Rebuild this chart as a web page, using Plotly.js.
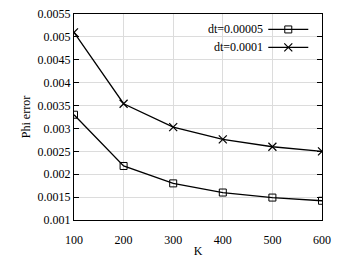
<!DOCTYPE html>
<html><head><meta charset="utf-8">
<script src="https://cdn.plot.ly/plotly-3.0.1.min.js"></script>
<style>html,body{margin:0;padding:0;background:#fff}</style>
</head><body><div id="chart" style="width:345px;height:259px"></div>
<script>
const K = [100, 200, 300, 400, 500, 600];
const errDt00005 = [0.0033, 0.00218, 0.0018, 0.0016, 0.00149, 0.00142];
const errDt0001 = [0.0051, 0.00354, 0.00303, 0.00276, 0.0026, 0.0025];
const seriesNames = ['dt=0.00005', 'dt=0.0001'];
const yTickVals = [0.001, 0.0015, 0.002, 0.0025, 0.003, 0.0035, 0.004, 0.0045, 0.005, 0.0055];
const yTickText = ['0.001', '0.0015', '0.002', '0.0025', '0.003', '0.0035', '0.004', '0.0045', '0.005', '0.0055'];
const xTickVals = [100, 200, 300, 400, 500, 600];

const font = {family: 'Liberation Serif, Times New Roman, serif', size: 12, color: '#000'};

const traces = [
  {x: K, y: errDt00005, name: '', mode: 'lines+markers', type: 'scatter', legend: 'legend',
   line: {color: '#000', width: 1.3},
   marker: {symbol: 'square-open', size: 7, color: '#000', line: {width: 1, color: '#000'}}},
  {x: K, y: errDt0001, name: '', mode: 'lines+markers', type: 'scatter', legend: 'legend2',
   line: {color: '#000', width: 1.3},
   marker: {symbol: 'x-thin-open', size: 8, color: '#000', line: {width: 1.2, color: '#000'}}}
];

const axisCommon = {
  showline: true, linecolor: '#000', linewidth: 1, mirror: 'ticks',
  ticks: 'inside', ticklen: 5, tickcolor: '#000', tickwidth: 1,
  showgrid: true, gridcolor: '#dcdcdc', gridwidth: 1, zeroline: false,
  tickfont: font
};

const legendCommon = {xanchor: 'right', yanchor: 'middle', bgcolor: 'rgba(0,0,0,0)',
  borderwidth: 0, font: {family: font.family, size: 10}, itemwidth: 40};

const layout = {
  width: 345, height: 259,
  margin: {l: 74, r: 23, t: 14, b: 39},
  paper_bgcolor: '#fff', plot_bgcolor: '#fff',
  font: font,
  showlegend: true,
  legend: Object.assign({}, legendCommon, {x: 0.985, y: 0.925}),
  legend2: Object.assign({}, legendCommon, {x: 0.985, y: 0.838}),
  xaxis: Object.assign({}, axisCommon, {range: [100, 600], tickvals: xTickVals,
           ticks: 'outside', ticklen: 9, tickcolor: 'rgba(0,0,0,0)', mirror: true,
           title: {text: 'K', font: font, standoff: 0}}),
  xaxis2: {overlaying: 'x', matches: 'x', side: 'bottom', range: [100, 600], tickvals: xTickVals,
           showline: false, ticks: 'inside', ticklen: 5, tickcolor: '#000', tickwidth: 1, mirror: 'ticks',
           showgrid: false, zeroline: false, showticklabels: false},
  yaxis: Object.assign({}, axisCommon, {range: [0.001, 0.0055], tickvals: yTickVals, ticktext: yTickText,
           title: {text: 'Phi error', font: font, standoff: 4}}),
  shapes: [{type: 'rect', xref: 'paper', yref: 'paper', x0: 0.48, x1: 1, y0: 0.791, y1: 1,
            fillcolor: '#fff', line: {width: 0}, layer: 'between'}],
  annotations: [
    {text: seriesNames[0], xref: 'paper', yref: 'paper', x: 0.77, y: 0.925, xanchor: 'right', yanchor: 'middle', showarrow: false, font: font},
    {text: seriesNames[1], xref: 'paper', yref: 'paper', x: 0.77, y: 0.838, xanchor: 'right', yanchor: 'middle', showarrow: false, font: font}
  ]
};

Plotly.newPlot('chart', traces, layout, {staticPlot: true, displayModeBar: false});
</script></body></html>
